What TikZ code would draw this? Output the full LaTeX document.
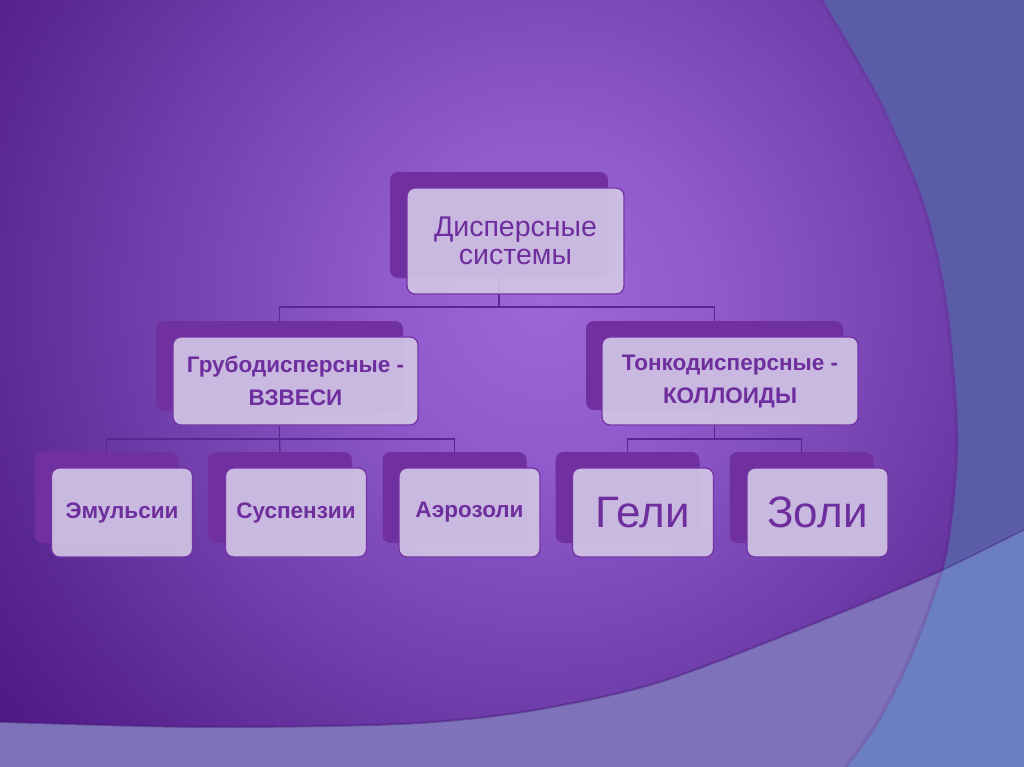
\documentclass[tikz,border=0pt]{standalone}
\usepackage{fontspec}
\setmainfont{Liberation Sans}
\usetikzlibrary{calc}
\definecolor{bgblue}{HTML}{5A5CA8}
\definecolor{bglblue}{HTML}{6A7EC0}
\definecolor{lav}{HTML}{7E72BA}
\definecolor{pc0}{HTML}{9D67D9}
\definecolor{pc1}{HTML}{9059CC}
\definecolor{pc2}{HTML}{7140AC}
\definecolor{pc3}{HTML}{5C2894}
\definecolor{pc4}{HTML}{4A1480}
\definecolor{edgesh}{HTML}{3E1070}
\definecolor{boxback}{HTML}{7030A0}
\definecolor{boxedge}{HTML}{7434A4}
\definecolor{boxfront}{HTML}{D3C7E6}
\definecolor{txt}{HTML}{6E2E9E}
\definecolor{connc}{HTML}{5A2790}
\pgfdeclareradialshading{bgrad}{\pgfpoint{0bp}{0bp}}{color(0bp)=(pc0); color(6bp)=(pc1); color(14bp)=(pc2); color(20bp)=(pc3); color(26bp)=(pc4); color(50bp)=(pc4)}
\tikzset{
  backbox/.style={fill=boxback, rounded corners=8pt, inner sep=0pt, outer sep=0pt},
  frontbox/.style={fill=boxfront, fill opacity=0.9, text opacity=1, draw=boxedge, draw opacity=1,
    line width=1.3pt, rounded corners=8pt, inner sep=2pt, outer sep=0pt, text=txt, align=center},
  conn/.style={draw=connc, line width=1.3pt},
  lvltwo/.style={font=\fontsize{22.5}{33}\selectfont\bfseries},
  leafback/.style={backbox, minimum width=144pt, minimum height=91pt},
  leaffront/.style={frontbox, minimum width=141pt, minimum height=89pt},
  leafsmall/.style={font=\fontsize{22.5}{27}\selectfont\bfseries},
  leafbig/.style={font=\fontsize{44}{50}\selectfont}
}
\begin{document}
\begin{tikzpicture}[x=1pt,y=-1pt]
\useasboundingbox (0,0) rectangle (1024,767);
% ---------- background ----------
\begin{scope}
\clip (0,0) rectangle (1024,767);
\fill[bgblue] (-20,-20) rectangle (1044,787);
\fill[bglblue] plot[smooth] coordinates {(-20,722) (0,722) (200,727) (400,724) (523,712) (650,685) (780,637) (943,570) (1044,520)} -- (1044,787) -- (-20,787) -- cycle;
\begin{scope}
\clip plot[smooth] coordinates {(812,-20) (823,0) (880,100) (923,200) (945,290) (955,380) (958,450) (952,520) (943,570) (913,653) (880,720) (847,767) (832,787)} -- (-20,787) -- (-20,-20) -- cycle;
\shade[shading=bgrad] (545,300) circle[radius=700pt];
\fill[lav] plot[smooth] coordinates {(-20,722) (0,722) (200,727) (400,724) (523,712) (650,685) (780,637) (943,570) (1044,520)} -- (1044,787) -- (-20,787) -- cycle;
\draw[edgesh, line width=2pt, opacity=0.4] plot[smooth] coordinates {(-20,722) (0,722) (200,727) (400,724) (523,712) (650,685) (780,637) (943,570) (1044,520)};
\draw[edgesh, line width=6pt, opacity=0.12] plot[smooth] coordinates {(812,-20) (823,0) (880,100) (923,200) (945,290) (955,380) (958,450) (952,520) (943,570) (913,653) (880,720) (847,767) (832,787)};
\end{scope}
\draw[edgesh, line width=1.5pt, opacity=0.3] plot[smooth] coordinates {(943,570) (1044,520)};
\end{scope}
% ---------- back boxes ----------
\node[backbox, minimum width=218pt, minimum height=106pt] (b0) at (499,225) {};
\node[backbox, minimum width=247pt, minimum height=90pt] (b1) at (279.5,366) {};
\node[backbox, minimum width=257pt, minimum height=89pt] (b2) at (714.5,365.5) {};
\node[leafback] (b11) at (106.5,497.5) {};
\node[leafback] (b12) at (280,497.5) {};
\node[leafback] (b13) at (454.5,497.5) {};
\node[leafback] (b21) at (627.5,497.5) {};
\node[leafback] (b22) at (801.5,497.5) {};
% ---------- connectors ----------
\coordinate (j0) at (499,307);
\coordinate (j1) at (279.5,439);
\coordinate (j2) at (714.5,439);
\draw[conn] (b0.south) -- (j0) -| (b1.north);
\draw[conn] (j0) -| (b2.north);
\draw[conn] (b1.south) -- (j1);
\draw[conn] (b11.north) |- (j1) -| (b13.north);
\draw[conn] (j1) -- (b12.north);
\draw[conn] (b2.south) -- (j2);
\draw[conn] (b21.north) |- (j2) -| (b22.north);
% ---------- front boxes ----------
\node[frontbox, minimum width=217pt, minimum height=106pt, font=\fontsize{28.5}{28.5}\selectfont] (f0) at (515.5,241) {Дисперсные\\системы};
\node[frontbox, lvltwo, minimum width=245pt, minimum height=88pt] (f1) at (295.5,381) {Грубодисперсные -\\ВЗВЕСИ};
\node[frontbox, lvltwo, minimum width=256pt, minimum height=88pt] (f2) at (730,381) {Тонкодисперсные -\\КОЛЛОИДЫ};
\node[leaffront, leafsmall] (f11) at (122,512.5) {Эмульсии};
\node[leaffront, leafsmall] (f12) at (296,512.5) {Суспензии};
\node[leaffront, leafsmall] (f13) at (469.5,512.5) {Аэрозоли};
\node[leaffront, leafbig] (f21) at (643,512.5) {Гели};
\node[leaffront, leafbig] (f22) at (817.5,512.5) {Золи};
\end{tikzpicture}
\end{document}
